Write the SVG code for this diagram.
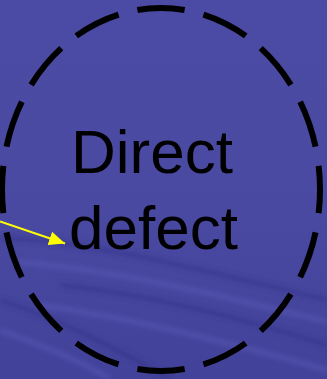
<svg xmlns="http://www.w3.org/2000/svg" width="327" height="379" viewBox="0 0 327 379">
<defs>
<linearGradient id="bg" x1="0" y1="0" x2="0" y2="1">
<stop offset="0" stop-color="#4b4ba5"/>
<stop offset="0.5" stop-color="#4a4aa2"/>
<stop offset="1" stop-color="#42429a"/>
</linearGradient>
<filter id="soft" x="-10%" y="-10%" width="120%" height="120%">
<feGaussianBlur stdDeviation="2.5"/>
</filter>
<marker id="ah" viewBox="0 0 16 14" refX="16" refY="7" markerWidth="16" markerHeight="14" markerUnits="userSpaceOnUse" orient="auto">
<path d="M0,0 L16,7 L0,14 Z" fill="#ffff00"/>
</marker>
<style>
.lbl{font-family:"Liberation Sans",Arial,sans-serif;font-size:62px;fill:#000}
.ring{fill:none;stroke:#000;stroke-width:6;stroke-dasharray:48 19.5;stroke-dashoffset:24}
.conn{stroke:#ffff00;stroke-width:2;fill:none}
.lw{fill:none;stroke:#5a5ab6;stroke-width:4;opacity:0.7}
.dw{fill:none;stroke:#34348a;stroke-width:5;opacity:0.6}
</style>
</defs>
<rect width="327" height="379" fill="url(#bg)"/>
<g filter="url(#soft)">
<path class="dw" d="M0,238 C80,240 170,262 327,300"/>
<path class="lw" d="M20,262 C110,270 200,290 327,322"/>
<path class="dw" d="M60,285 C150,295 230,315 327,345"/>
<path class="lw" d="M40,305 C130,318 220,340 327,370"/>
<path class="dw" d="M0,300 C60,320 110,345 170,379"/>
<path class="lw" d="M0,330 C40,345 80,360 110,379"/>
</g>
<g id="defect">
<ellipse class="ring" cx="161" cy="189.5" rx="159" ry="181.5" pathLength="1080"/>
<text class="lbl" x="71" y="173">Direct</text>
<text class="lbl" x="69" y="249">defect</text>
</g>
<g id="connectors">
<line class="conn" x1="0" y1="221.5" x2="65" y2="243.5" marker-end="url(#ah)"/>
</g>
</svg>
